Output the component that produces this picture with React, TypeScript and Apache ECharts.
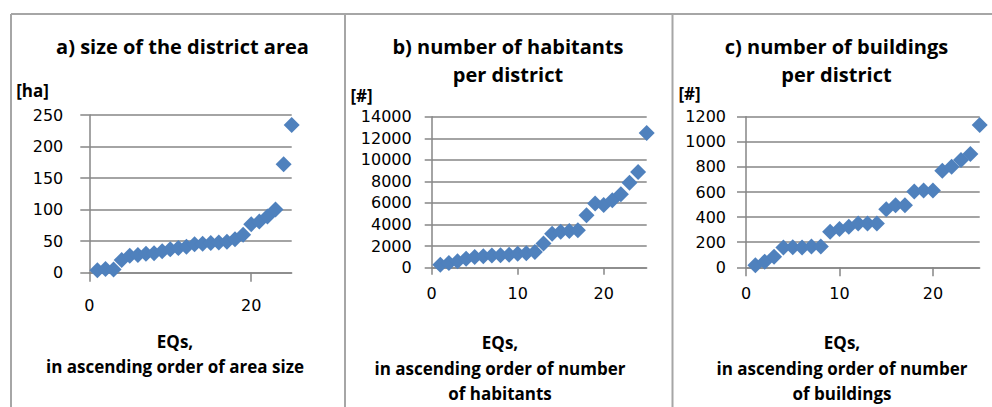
import React, { useEffect, useRef } from "react";
import * as echarts from "echarts";

// Rank of each EQ (x positions)
const eqRank = [1, 2, 3, 4, 5, 6, 7, 8, 9, 10, 11, 12, 13, 14, 15, 16, 17, 18, 19, 20, 21, 22, 23, 24, 25];

// a) size of the district area [ha]
const areaHa = [4, 6, 5, 20, 27, 28, 30, 31, 34, 37, 39, 41, 45, 46, 47, 48, 49, 53, 60, 77, 81, 89, 100, 172, 234];
// b) number of habitants per district
const habitants = [280, 435, 590, 840, 1000, 1060, 1120, 1150, 1210, 1300, 1340, 1460, 2240, 3150, 3330, 3400, 3480, 4870, 5950, 5820, 6250, 6800, 7880, 8880, 12500];
// c) number of buildings per district
const buildings = [16, 45, 85, 157, 160, 157, 165, 165, 284, 305, 324, 350, 350, 350, 462, 495, 495, 603, 611, 611, 770, 802, 855, 903, 1134];

const titles = ["a) size of the district area", "b) number of habitants\nper district", "c) number of buildings\nper district"];
const units = ["[ha]", "[#]", "[#]"];
const xNames = [
  "EQs,\nin ascending order of area size",
  "EQs,\nin ascending order of number\nof habitants",
  "EQs,\nin ascending order of number\nof buildings",
];
const yMax = [250, 14000, 1200];
const yStep = [50, 2000, 200];
const xTickValues = [[0, 20], [0, 10, 20], [0, 10, 20]];
const xMax = 25;

const seriesValues = [areaHa, habitants, buildings];

// layout (pixels)
const grids = [
  { left: 89.3, top: 115, width: 202.4, height: 157.7 },
  { left: 431.7, top: 116.7, width: 215, height: 151 },
  { left: 746, top: 116.7, width: 233.7, height: 150.6 },
];
const yLabelMargin = [26, 20, 20];
const tickLen = [9, 7, 9];
const titlePos = [
  [182.5, 46],
  [508, 60],
  [836.5, 60],
];
const unitPos = [
  [32.5, 90],
  [361.5, 95],
  [689.5, 93],
];
const namePos = [
  [175, 354],
  [500, 368],
  [842, 368],
];

const BLUE = "#4F81BD";
const GRID = "#868686";
const FRAME = "#A6A6A6";
const FONT = '"Open Sans", "Noto Sans", sans-serif';
const TICK_FONT = '"DejaVu Sans", "Open Sans", sans-serif';

export default function App() {
  const ref = useRef<HTMLDivElement>(null);

  useEffect(() => {
    if (!ref.current) return;
    const chart = echarts.init(ref.current, undefined, { renderer: "svg" });

    const xAxis = grids.map((_, i) => ({
      type: "value",
      gridIndex: i,
      min: 0,
      max: xMax,
      interval: xTickValues[i][1] - xTickValues[i][0],
      axisLine: { show: true, lineStyle: { color: GRID, width: 1.5 } },
      axisTick: { show: true, length: tickLen[i], customValues: xTickValues[i], lineStyle: { color: GRID, width: 1.5 } },
      axisLabel: {
        customValues: xTickValues[i],
        formatter: (v: number) => String(v),
        color: "#000",
        fontFamily: TICK_FONT,
        fontSize: 16,
        margin: i === 0 ? 25 : 18,
      },
      splitLine: { show: false },
    }));

    const yAxis = grids.map((_, i) => ({
      type: "value",
      gridIndex: i,
      min: 0,
      max: yMax[i],
      interval: yStep[i],
      axisLine: { show: true, lineStyle: { color: GRID, width: 1.5 } },
      axisTick: { show: true, length: tickLen[i], lineStyle: { color: GRID, width: 1.5 } },
      axisLabel: {
        formatter: (v: number) => String(v),
        color: "#000",
        fontFamily: TICK_FONT,
        fontSize: 16,
        lineHeight: 18,
        margin: yLabelMargin[i],
      },
      splitLine: { show: true, lineStyle: { color: GRID, width: 1.5 } },
    }));

    const series = seriesValues.map((vals, i) => ({
      type: "scatter",
      xAxisIndex: i,
      yAxisIndex: i,
      symbol: "diamond",
      symbolSize: 16,
      itemStyle: { color: BLUE, opacity: 1 },
      data: vals.map((v, k) => [eqRank[k], v]),
    }));

    const graphic: any[] = [
      // frame lines
      { type: "line", shape: { x1: 11, y1: 14, x2: 992, y2: 14 }, style: { stroke: FRAME, lineWidth: 2 } },
      { type: "line", shape: { x1: 11, y1: 14, x2: 11, y2: 407 }, style: { stroke: FRAME, lineWidth: 2 } },
      { type: "line", shape: { x1: 345, y1: 14, x2: 345, y2: 407 }, style: { stroke: FRAME, lineWidth: 2 } },
      { type: "line", shape: { x1: 672.5, y1: 14, x2: 672.5, y2: 407 }, style: { stroke: FRAME, lineWidth: 2 } },
    ];
    titles.forEach((t, i) => {
      graphic.push({
        type: "text",
        x: titlePos[i][0],
        y: titlePos[i][1],
        style: {
          text: t,
          align: "center",
          verticalAlign: "middle",
          fontFamily: FONT,
          fontWeight: "bold",
          fontSize: 20,
          lineHeight: 28,
          fill: "#000",
        },
      });
      graphic.push({
        type: "text",
        x: unitPos[i][0],
        y: unitPos[i][1],
        style: {
          text: units[i],
          align: "center",
          verticalAlign: "middle",
          fontFamily: FONT,
          fontWeight: "bold",
          fontSize: 17,
          fill: "#000",
        },
      });
      graphic.push({
        type: "text",
        x: namePos[i][0],
        y: namePos[i][1],
        style: {
          text: xNames[i],
          align: "center",
          verticalAlign: "middle",
          fontFamily: FONT,
          fontWeight: "bold",
          fontSize: 17,
          lineHeight: 25.5,
          fill: "#000",
        },
      });
    });

    chart.setOption({
      animation: false,
      backgroundColor: "#fff",
      grid: grids.map((g) => ({ ...g, containLabel: false })),
      xAxis,
      yAxis,
      series,
      graphic,
    });

    return () => chart.dispose();
  }, []);

  return (
    <div
      ref={ref}
      style={{ position: "fixed", left: 0, top: 0, width: 992, height: 407 }}
    />
  );
}
